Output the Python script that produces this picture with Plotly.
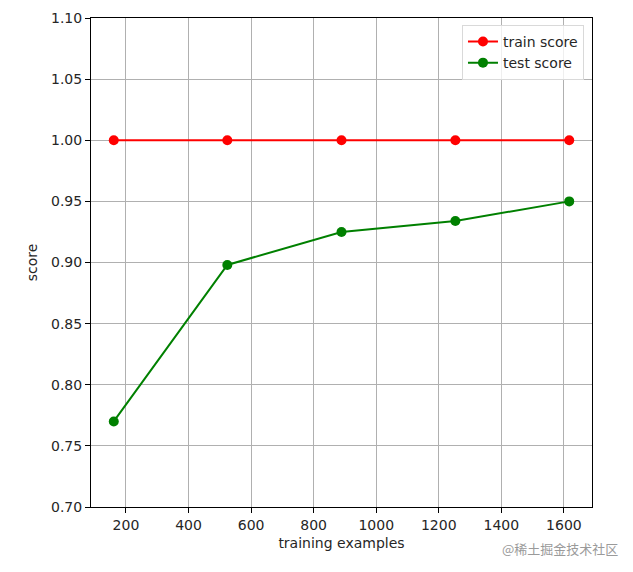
import plotly.graph_objects as go

train_sizes = [161, 524, 889, 1253, 1617]
train_score = [1.0, 1.0, 1.0, 1.0, 1.0]
test_score = [0.770, 0.898, 0.925, 0.934, 0.950]

x_ticks = [200, 400, 600, 800, 1000, 1200, 1400, 1600]
y_ticks = [0.70, 0.75, 0.80, 0.85, 0.90, 0.95, 1.00, 1.05, 1.10]

font = "DejaVu Sans"

fig = go.Figure()
fig.add_trace(go.Scatter(x=train_sizes, y=train_score, mode="lines+markers",
                         name="train score", line=dict(color="#ff0000", width=2),
                         marker=dict(color="#ff0000", size=10)))
fig.add_trace(go.Scatter(x=train_sizes, y=test_score, mode="lines+markers",
                         name="test score", line=dict(color="#008000", width=2),
                         marker=dict(color="#008000", size=10)))

axis_common = dict(showline=True, linecolor="#000000", linewidth=1, mirror=True,
                   ticks="outside", ticklen=5, tickcolor="#000000", automargin=False,
                   showgrid=True, gridcolor="#b0b0b0", gridwidth=1, zeroline=False,
                   tickfont=dict(family=font, size=14, color="#262626"))

fig.update_xaxes(range=[88.2, 1689.8], tickvals=x_ticks,
                 ticktext=[str(v) for v in x_ticks],
                 title=dict(text="training examples", standoff=6,
                            font=dict(family=font, size=14, color="#262626")),
                 **axis_common)
fig.update_yaxes(range=[0.70, 1.10], tickvals=y_ticks,
                 ticktext=[f"{v:.2f}" for v in y_ticks],
                 title=dict(text="score", standoff=10,
                            font=dict(family=font, size=14, color="#262626")),
                 **axis_common)

fig.add_annotation(text="@稀土掘金技术社区", xref="paper", yref="paper",
                   x=1.056, y=-0.084, xanchor="right", yanchor="middle", showarrow=False,
                   font=dict(family="Noto Sans CJK SC", size=13, color="#9a9a9a"))

fig.update_layout(width=633, height=572,
                  margin=dict(l=83, r=49, t=10, b=73),
                  paper_bgcolor="white", plot_bgcolor="white",
                  font=dict(family=font, size=14, color="#262626"),
                  legend=dict(x=0.984, y=0.986, xanchor="right", yanchor="top",
                              bgcolor="rgba(255,255,255,0.8)", bordercolor="#d9d9d9",
                              borderwidth=1, font=dict(family=font, size=14),
                              tracegroupgap=2),
                  showlegend=True)

fig.write_html("out.html")
